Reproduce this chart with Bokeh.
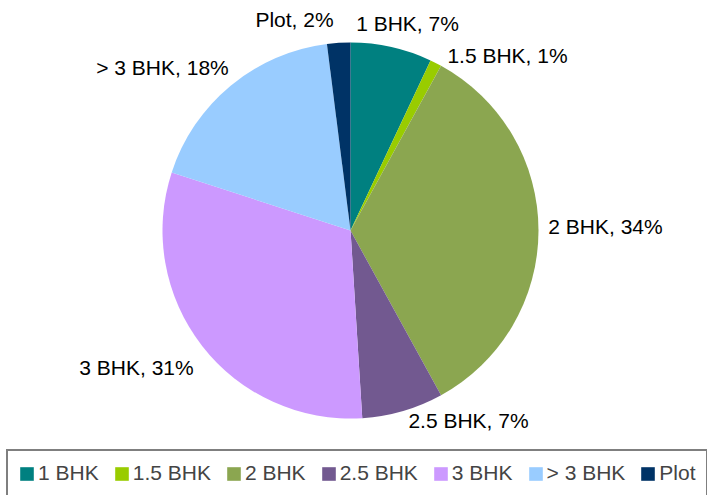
import math
from bokeh.plotting import figure
from bokeh.models import Range1d, ColumnDataSource, Legend, LegendItem
from bokeh.core.properties import value
from bokeh.embed import file_html
from bokeh.resources import INLINE

# ---- data ----
categories = ["1 BHK", "1.5 BHK", "2 BHK", "2.5 BHK", "3 BHK", "> 3 BHK", "Plot"]
shares = [7, 1, 34, 7, 31, 18, 2]
colors = ["#008080", "#99CC00", "#8BA650", "#725990", "#CC99FF", "#99CCFF", "#003366"]

# ---- layout ----
W, H = 707, 495
CX, CY, R = 350, 265, 188
FONT = "Liberation Sans"
# label centres in page pixels (x, y from top-left)
label_pos = [(407, 23), (507, 55), (605, 226), (468, 420), (136, 367), (162, 67), (294, 19)]

total = sum(shares)
starts, ends = [], []
cum = 0.0
for s in shares:
    starts.append(math.pi / 2 - 2 * math.pi * cum / total)
    cum += s
    ends.append(math.pi / 2 - 2 * math.pi * cum / total)

p = figure(width=W, height=H, x_range=Range1d(0, W), y_range=Range1d(0, H),
           output_backend="svg", toolbar_location=None, min_border=0,
           x_axis_location=None, y_axis_location=None)
p.grid.visible = False
p.outline_line_color = None

renderers = []
for i, cat in enumerate(categories):
    src = ColumnDataSource(dict(x=[CX], y=[CY], start=[starts[i]], end=[ends[i]]))
    r = p.wedge(x="x", y="y", radius=R, start_angle="start", end_angle="end",
                direction="clock", fill_color=colors[i], line_color=None, source=src)
    renderers.append(r)

labels = [f"{c}, {s}%" for c, s in zip(categories, shares)]
lsrc = ColumnDataSource(dict(
    x=[lx for lx, ly in label_pos],
    y=[H - ly for lx, ly in label_pos],
    text=labels))
p.text(x="x", y="y", text="text", source=lsrc, text_font=value(FONT),
       text_font_size="21px", text_align="center", text_baseline="middle",
       text_color="black")

legend = Legend(items=[LegendItem(label=c, renderers=[r]) for c, r in zip(categories, renderers)],
                orientation="horizontal", location=(6, -2), margin=0, padding=10,
                spacing=14, label_standoff=3, glyph_width=17, glyph_height=17,
                border_line_color="black", border_line_width=2,
                label_text_font=FONT, label_text_font_size="21px",
                background_fill_color="white", background_fill_alpha=1)
p.add_layout(legend, "center")

open("out.html", "w").write(file_html(p, INLINE))
